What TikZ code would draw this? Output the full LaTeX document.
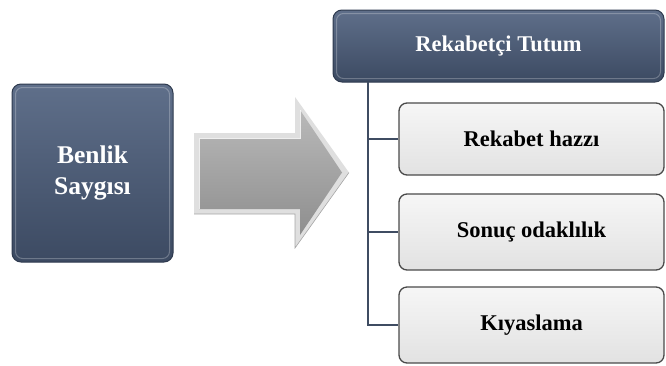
\documentclass[tikz,border=0pt]{standalone}
\usepackage{fontspec}
\setmainfont{Liberation Serif}
\definecolor{darkTop}{HTML}{5F6F8A}
\definecolor{darkBot}{HTML}{3C4A62}
\definecolor{darkEdge}{HTML}{2E3A4E}
\definecolor{lightTop}{HTML}{F6F6F6}
\definecolor{lightBot}{HTML}{E2E2E2}
\definecolor{lightEdge}{HTML}{4A4A4A}
\definecolor{lineCol}{HTML}{3F4C62}
\definecolor{arrowMid}{HTML}{9E9E9E}
\begin{document}
\begin{tikzpicture}[x=1pt,y=-1pt,
  darkbox/.style={draw=darkEdge, line width=1pt, rounded corners=9pt,
    top color=darkTop, bottom color=darkBot, text=white,
    font=\bfseries\fontsize{22.5}{29}\selectfont, align=center, inner sep=0pt},
  lightbox/.style={draw=lightEdge, line width=1.3pt, rounded corners=8pt,
    top color=lightTop, bottom color=lightBot, text=black,
    font=\bfseries\fontsize{22.5}{26}\selectfont, align=center, inner sep=0pt,
    minimum width=265pt},
  conn/.style={draw=lineCol, line width=1.8pt}]
\useasboundingbox (0,0) rectangle (666,365);

% left box
\node[darkbox, font=\bfseries\fontsize{25.5}{31}\selectfont,
  minimum width=161pt, minimum height=178pt] (benlik) at (92.5,173) {Benlik\\Saygısı};
\draw[white, opacity=0.25, line width=1pt, rounded corners=7pt]
  ([shift={(4,4)}]benlik.north west) rectangle ([shift={(-4,-4)}]benlik.south east);

% arrow (bevelled)
\fill[gray!25] (194,133) -- (295,133) -- (295,97) -- (349,172.5) -- (295,248) -- (295,214) -- (194,214) -- cycle;
\shade[top color=gray!55, bottom color=arrowMid!90!black] (199,138) -- (300,138) -- (300,110) -- (342,172.5) -- (300,235) -- (300,209) -- (199,209) -- cycle;
\draw[white, line width=0.8pt, opacity=0.8] (199,209) -- (199,138) -- (300,138) -- (300,110);
\draw[gray!70, line width=0.6pt] (194,214) -- (295,214) -- (295,248) -- (349,172.5);

% right boxes
\node[darkbox, minimum width=331pt, minimum height=72pt] (tutum) at (498.5,46) {Rekabetçi Tutum};
\draw[white, opacity=0.25, line width=1pt, rounded corners=7pt]
  ([shift={(4,4)}]tutum.north west) rectangle ([shift={(-4,-4)}]tutum.south east);
\node[lightbox, minimum height=72pt] (hazz) at (531.5,139) {Rekabet hazzı};
\node[lightbox, minimum height=76pt] (sonuc) at (531.5,232) {Sonuç odaklılık};
\node[lightbox, minimum height=76pt] (kiyas) at (531.5,325) {Kıyaslama};

% connectors
\coordinate (trunk) at (368,82);
\draw[conn] (trunk) |- (kiyas.west);
\draw[conn] (trunk |- hazz.west) -- (hazz.west);
\draw[conn] (trunk |- sonuc.west) -- (sonuc.west);
\end{tikzpicture}
\end{document}
